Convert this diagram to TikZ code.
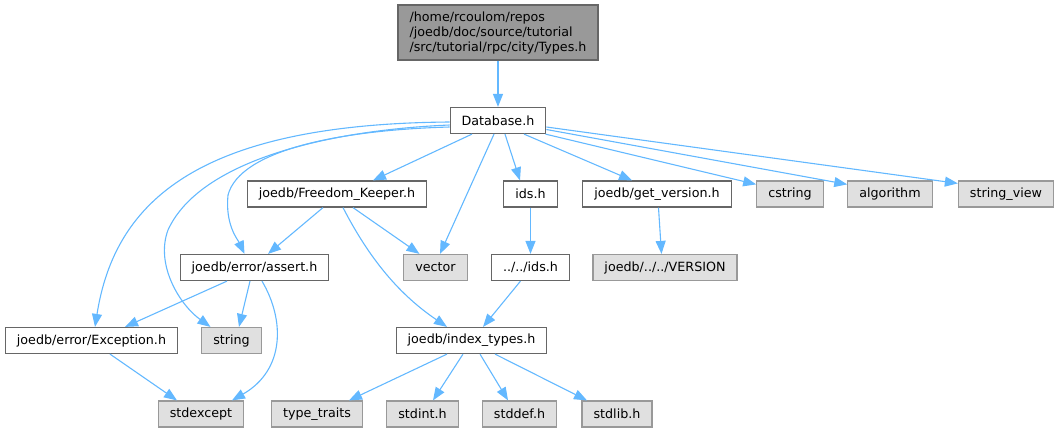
\documentclass[tikz,border=0pt]{standalone}
\usepackage{fontspec}
\setmainfont{DejaVu Sans}
\usepackage{tikz}
\usetikzlibrary{arrows.meta,positioning}
\definecolor{edgeblue}{RGB}{99,184,255}
\definecolor{boxgrey}{RGB}{102,102,102}
\definecolor{extgrey}{RGB}{153,153,153}
\definecolor{extfill}{RGB}{224,224,224}

\begin{document}
\begin{tikzpicture}[
x=1pt, y=-1pt,
every node/.style={font=\fontsize{12.7}{15}\selectfont, inner xsep=11.5pt, inner ysep=0pt, minimum height=26pt},
filenode/.style={rectangle, draw=boxgrey, fill=white, line width=1.2pt},
sysnode/.style={rectangle, draw=extgrey, fill=extfill, line width=1.2pt},
mainnode/.style={rectangle, draw=boxgrey, fill=extgrey, line width=1.2pt, align=left, minimum height=55pt},
incl/.style={draw=edgeblue, line width=1.1pt, -{Triangle[length=13pt,width=10pt]}},
]
\useasboundingbox (0,0) rectangle (1061,432);

%Nodes
\node[mainnode]   (root)  at (498,32.5)  {/home/rcoulom/repos\\/joedb/doc/source/tutorial\\/src/tutorial/rpc/city/Types.h};
\node[filenode]   (db)    at (498,120.5) {Database.h};
\node[filenode]   (fk)    at (337,194)   {joedb/Freedom\_Keeper.h};
\node[filenode]   (ids)   at (530.5,194) {ids.h};
\node[filenode]   (gv)    at (657,194)   {joedb/get\_version.h};
\node[sysnode]    (cs)    at (790,194)   {cstring};
\node[sysnode]    (alg)   at (890,194)   {algorithm};
\node[sysnode]    (sv)    at (1006,194)  {string\_view};
\node[filenode]   (as)    at (254.5,267.5) {joedb/error/assert.h};
\node[sysnode]    (vec)   at (435.5,267.5) {vector};
\node[filenode]   (ids2)  at (530.5,267.5) {../../ids.h};
\node[sysnode]    (ver)   at (665,267.5) {joedb/../../VERSION};
\node[filenode]   (exc)   at (91.5,340.5) {joedb/error/Exception.h};
\node[sysnode]    (str)   at (231.5,340.5) {string};
\node[filenode]   (it)    at (471.5,340.5) {joedb/index\_types.h};
\node[sysnode]    (sx)    at (201,414)   {stdexcept};
\node[sysnode]    (tt)    at (317,414)   {type\_traits};
\node[sysnode]    (si)    at (422.5,414) {stdint.h};
\node[sysnode]    (sd)    at (519.5,414) {stddef.h};
\node[sysnode]    (sl)    at (617,414)   {stdlib.h};

%Lines
\draw[incl] (root.south) -- (db.north);
\draw[incl] ([xshift=-26pt]db.south) -- ([xshift=36pt]fk.north);
\draw[incl] ([xshift=7pt]db.south) -- ([xshift=-10.5pt]ids.north);
\draw[incl] ([xshift=26pt]db.south) -- ([xshift=-25pt]gv.north);
\draw[incl] ([xshift=-1pt]db.south east) -- ([yshift=-4pt]cs.north west);
\draw[incl] ([yshift=-9pt]db.east) -- ([yshift=-4pt]alg.north west);
\draw[incl] ([yshift=-6.5pt]db.east) -- ([yshift=-3pt]sv.north west);
\draw[incl] ([xshift=-4pt]db.south) -- ([xshift=4.5pt]vec.north);
\draw[incl] ([yshift=-1.5pt]db.west) .. controls (200,124) and (115,200) .. ([xshift=3.5pt]exc.north);
\draw[incl] ([yshift=-4.5pt]db.west) .. controls (330,130) and (200,160) .. (168,230)
  .. controls (155,265) and (180,305) .. ([xshift=-21pt]str.north);
\draw[incl] ([yshift=-6.5pt]db.west) .. controls (340,130) and (240,150) .. (228,195)
  .. controls (225,225) and (238,240) .. ([xshift=-10pt]as.north);
\draw[incl] ([xshift=-14pt]fk.south) -- ([xshift=13.5pt]as.north);
\draw[incl] ([xshift=16pt]fk.south) -- ([xshift=-16pt]vec.north);
\draw[incl] ([xshift=6pt]fk.south) .. controls (370,260) and (400,295) .. ([xshift=-24.5pt]it.north);
\draw[incl] (ids.south) -- (ids2.north);
\draw[incl] ([xshift=1.5pt]gv.south) -- ([xshift=-3.5pt]ver.north);
\draw[incl] ([xshift=-10pt]ids2.south) -- ([xshift=11.5pt]it.north);
\draw[incl] ([xshift=-27.5pt]as.south) -- ([xshift=33.5pt]exc.north);
\draw[incl] ([xshift=-4.5pt]as.south) -- ([xshift=7.5pt]str.north);
\draw[incl] ([xshift=7.5pt]as.south) .. controls (285,320) and (285,370) .. ([xshift=31pt]sx.north);
\draw[incl] ([xshift=18.5pt]exc.south) -- ([xshift=-24pt]sx.north);
\draw[incl] ([xshift=-24.5pt]it.south) -- ([xshift=32pt]tt.north);
\draw[incl] ([xshift=-8.5pt]it.south) -- ([xshift=10.5pt]si.north);
\draw[incl] ([xshift=8.5pt]it.south) -- ([xshift=-11.5pt]sd.north);
\draw[incl] ([xshift=23.5pt]it.south) -- ([xshift=-30pt]sl.north);
\end{tikzpicture}
\end{document}
